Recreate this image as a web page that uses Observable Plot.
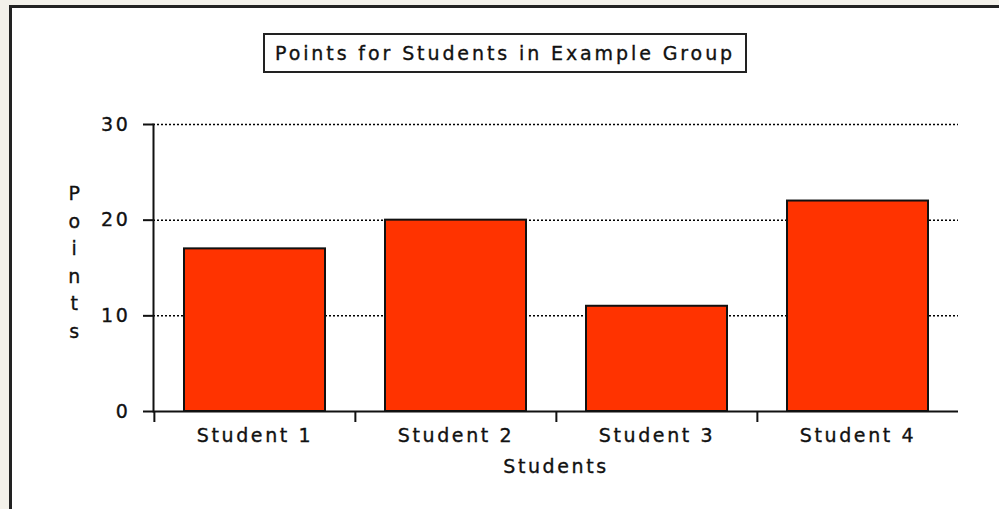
<!DOCTYPE html>
<html>
<head>
<meta charset="utf-8">
<script src="https://cdn.jsdelivr.net/npm/d3@7"></script>
<script src="https://cdn.jsdelivr.net/npm/@observablehq/plot@0.6"></script>
<style>
  html, body { margin: 0; padding: 0; background: #F3F1EA; overflow: hidden; }
  #frame {
    position: absolute; left: 9px; top: 5px;
    width: 1000px; height: 520px;
    border: 3px solid #222; background: #fff;
  }
  #title {
    position: absolute; left: 251px; top: 25px;
    width: 480px; height: 36px; line-height: 36px;
    border: 2px solid #222; background: #fff;
    font-family: "DejaVu Sans", sans-serif; font-size: 19px; letter-spacing: 2.9px;
    text-align: center; color: #111; -webkit-text-stroke: 0.35px #111;
  }
  #chart { position: absolute; left: 0; top: 72px; }
  #chart svg { display: block; }
  #chart svg text { stroke: #111; stroke-width: 0.35px; }
</style>
</head>
<body>
<div id="frame">
  <div id="title">Points for Students in Example Group</div>
  <div id="chart"></div>
</div>
<script>
const students = ["Student 1", "Student 2", "Student 3", "Student 4"];
const points = [17, 20, 11, 22];
const yTicks = [0, 10, 20, 30];
const gridTicks = [10, 20, 30];
const xLabel = "Students";
const yLabel = "Points";

const data = students.map((s, i) => ({student: s, points: points[i]}));

const W = 987, H = 429, ML = 141, MR = 41, MT = 44, MB = 98;
const PI = 0.3, PO = 0.15;
const step = (W - ML - MR) / (students.length - PI + 2 * PO);

const chart = Plot.plot({
  width: W, height: H,
  marginLeft: ML, marginRight: MR, marginTop: MT, marginBottom: MB,
  style: {fontFamily: "DejaVu Sans, sans-serif", fontSize: "19px", letterSpacing: "2.6px", background: "white", color: "#111"},
  x: {domain: students, paddingInner: PI, paddingOuter: PO, axis: null},
  y: {domain: [0, 30], axis: null},
  marks: [
    Plot.gridY(gridTicks, {stroke: "#000", strokeOpacity: 1, strokeDasharray: "2,2", strokeWidth: 1.5}),
    Plot.barY(data, {x: "student", y: "points", fill: "#FF3300", stroke: "#111", strokeWidth: 2}),
    Plot.frame({anchor: "left", stroke: "#111", strokeWidth: 2}),
    Plot.ruleY([0], {stroke: "#111", strokeWidth: 2}),
    Plot.ruleX(students, {x: d => d, y1: 0, y2: 0, dx: -step / 2, insetBottom: -11, stroke: "#111", strokeWidth: 2}),
    Plot.axisY(yTicks, {tickSize: 10, tickPadding: 13, tickFormat: d => d, stroke: "#111", strokeWidth: 2, label: null}),
    Plot.axisX({tickSize: 0, tickPadding: 17, label: null}),
    Plot.text([xLabel], {frameAnchor: "bottom", dy: 55, lineAnchor: "middle", text: d => d}),
    Plot.text([yLabel], {frameAnchor: "left", dx: -78, dy: -8, lineHeight: 1.45, textAnchor: "middle", lineAnchor: "middle", text: d => d.split("").join("\n")})
  ]
});
document.getElementById("chart").appendChild(chart);
</script>
</body>
</html>
